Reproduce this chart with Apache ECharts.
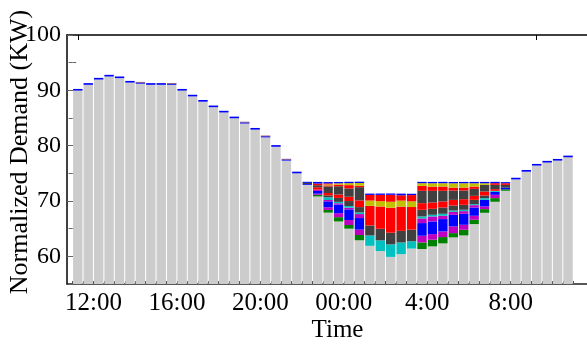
<!DOCTYPE html>
<html>
<head>
<meta charset="utf-8">
<script src="https://cdn.jsdelivr.net/npm/echarts@6/dist/echarts.min.js"></script>
<style>html,body{margin:0;padding:0;background:#fff;}#c{width:587px;height:345px;}</style>
</head>
<body>
<div id="c"></div>
<script>
// 48 half-hour slots starting 11:00
const slots = ["11:00","11:30","12:00","12:30","13:00","13:30","14:00","14:30","15:00","15:30",
  "16:00","16:30","17:00","17:30","18:00","18:30","19:00","19:30","20:00","20:30",
  "21:00","21:30","22:00","22:30","23:00","23:30","00:00","00:30","1:00","1:30",
  "2:00","2:30","3:00","3:30","4:00","4:30","5:00","5:30","6:00","6:30",
  "7:00","7:30","8:00","8:30","9:00","9:30","10:00","10:30"];
const tickLabels = ["12:00", "16:00", "20:00", "00:00", "4:00", "8:00"];
const tickSlots = [2, 10, 18, 26, 34, 42];

const base = [89.95, 91.0, 91.95, 92.5, 92.2, 91.4, 91.2, 91.0, 91.0, 91.0, 89.95, 88.9,
  87.95, 86.95, 86.0, 84.95, 84.0, 82.9, 81.5, 79.8, 77.3, 75.0, 72.92, 70.82,
  67.9, 66.3, 65.0, 62.9, 61.9, 60.95, 59.9, 60.4, 61.4, 61.32, 61.8, 62.34,
  63.42, 63.78, 65.83, 67.87, 69.86, 71.85, 73.9, 75.3, 76.4, 76.95, 77.3, 77.9];

function night(m) { const a = new Array(slots.length).fill(0); for (const k in m) a[+k] = m[k]; return a; }

const green = night({23:0.3,24:0.48,25:0.78,26:0.66,27:0.96,33:1.2,34:1.2,35:1.14,36:0.78,37:1.02,38:0.78,39:0.66,40:0.66,41:0.26});
const magenta1 = night({23:0.2,24:0.48,25:0.72,26:0.9,27:0.96,33:1.2,34:1.02,35:1.02,36:1.2,37:0.9,38:0.72,39:0.48,40:0.6});
const blue1 = night({22:0.15,23:0.5,24:1.08,25:1.56,26:1.93,27:2.1,33:2.29,34:2.29,35:2.23,36:2.1,37:1.99,38:1.5,39:1.2,40:0.54,41:0.3});
const magenta2 = night({23:0.25,24:0.24,25:0.24,26:0.3,27:0.72,33:0.84,34:0.9,35:0.6,36:0.54,37:0.48,38:0.42});
const cyan = night({24:0.48,25:0.24,26:0.3,27:0.3,28:1.87,29:1.93,30:2.27,31:2.1,32:1.32,33:0.36,34:0.3,35:0.36,36:0.24,37:0.24,38:0.18,39:0.3,40:0.18});
const dark1 = night({24:0.36,25:0.72,26:0.9,27:0.96,28:1.8,29:2.1,30:2.1,31:2.1,32:2.1,33:1.2,34:1.08,35:1.14,36:0.9,37:0.9,38:0.78,39:0.48});
const red1 = night({23:0.42,24:0.42,25:0.6,26:0.78,27:1.2,28:3.55,29:4.03,30:4.51,31:4.39,32:4.09,33:1.2,34:1.14,35:1.08,36:1.02,37:1.02,38:0.72,39:0.72,40:0.3});
const dark2 = night({22:0.2,23:0.36,24:1.2,25:1.5,26:1.5,27:2.4,33:2.23,34:2.1,35:1.93,36:1.68,37:1.56,38:1.26,39:1.2,40:0.78,41:0.5});
const red2 = night({24:0.18,25:0.3,26:0.6,27:0.27,33:0.9,34:0.78,35:0.78,36:0.54,37:0.54,38:0.42,40:0.3,41:0.3});
const yellow = night({24:0.18,25:0.24,26:0.36,27:0.48,28:0.96,29:0.96,30:1.08,31:1.08,32:1.02,33:0.48,34:0.6,35:0.6,36:0.78,37:0.78,38:0.6,39:0.3});
const red3 = night({23:0.3,24:0.18,28:1.02,29:1.14,30:1.26,31:0.96,32:1.14});
const blueCap = [0.3,0.3,0.3,0.3,0.3,0.3,0.2,0.3,0.3,0.2,0.3,0.3,0.3,0.3,0.3,0.3,0.2,0.3,0.2,0.3,0.2,0.3,
  0.2,0.3,0.24,0.24,0.24,0.24,0.24,0.24,0.24,0.3,0.24,0.24,0.24,0.24,0.24,0.24,0.24,0.24,0.24,0.2,
  0.3,0.3,0.3,0.3,0.3,0.3];
const brownCap = night({6:0.12,9:0.12,16:0.12,18:0.12,20:0.12});

// bottom -> top stacking order
const layers = [
  ['base', base, '#cccccc'],
  ['green', green, '#008000'],
  ['magenta1', magenta1, '#c000c0'],
  ['blue1', blue1, '#0000ff'],
  ['magenta2', magenta2, '#c000c0'],
  ['cyan', cyan, '#00c0c0'],
  ['dark1', dark1, '#404040'],
  ['red1', red1, '#ff0000'],
  ['dark2', dark2, '#404040'],
  ['red2', red2, '#ff0000'],
  ['yellow', yellow, '#c0c000'],
  ['red3', red3, '#ff0000'],
  ['blueCap', blueCap, '#0000ff'],
  ['brownCap', brownCap, '#7f3f4f']
];

const FONT = 'Liberation Serif';
const boundaries = Array.from({length: slots.length + 1}, (_, i) => i);

const series = layers.map(([name, vals, color]) => ({
  name, type: 'bar', stack: 'demand', barWidth: 9.4, silent: true,
  xAxisIndex: 0, yAxisIndex: 0,
  itemStyle: {color},
  data: vals
}));

const chart = echarts.init(document.getElementById('c'), null, {renderer: 'canvas'});
chart.setOption({
  animation: false,
  backgroundColor: '#fff',
  grid: [
    {left: 72.6, right: 13.76, top: 35, bottom: 61, containLabel: false, outerBoundsMode: 'none'},
    {left: 67, right: 0, top: 35, bottom: 61, containLabel: false, outerBoundsMode: 'none'}
  ],
  xAxis: [{
    gridIndex: 0, type: 'category', data: slots, boundaryGap: true, show: false
  }, {
    gridIndex: 1, type: 'value', min: -0.54, max: 49.32, position: 'bottom',
    axisLine: {show: true, onZero: false, lineStyle: {color: '#222', width: 1.5}},
    splitLine: {show: false},
    axisTick: {show: true, inside: true, length: 3, customValues: boundaries, lineStyle: {color: '#555', width: 1}},
    axisLabel: {customValues: tickSlots, margin: 7, color: '#000', fontFamily: FONT, fontSize: 25,
      formatter: v => tickLabels[tickSlots.indexOf(Math.round(v))] || ''},
    name: 'Time', nameLocation: 'middle', nameGap: 34, nameMoveOverlap: false,
    nameTextStyle: {fontFamily: FONT, fontSize: 25, color: '#000', padding: [0, 0, 0, 21]}
  }, {
    gridIndex: 1, type: 'value', min: -0.54, max: 49.32, position: 'top',
    axisLine: {show: true, onZero: false, lineStyle: {color: '#000', width: 1.5}},
    splitLine: {show: false},
    axisTick: {show: true, inside: true, length: 5, customValues: [0.5, 44.5], lineStyle: {color: '#000'}},
    axisLabel: {show: false}
  }],
  yAxis: [{
    gridIndex: 0, type: 'value', min: 55, max: 100, show: false
  }, {
    gridIndex: 1, type: 'value', min: 55, max: 100, position: 'left',
    axisLine: {show: true, onZero: false, lineStyle: {color: '#000', width: 1.5}},
    splitLine: {show: false},
    axisTick: {show: true, inside: true, length: 6, customValues: [60, 70, 80, 90, 100], lineStyle: {color: '#666'}},
    axisLabel: {customValues: [60, 70, 80, 90, 100], margin: 6, color: '#000', fontFamily: FONT, fontSize: 24},
    name: 'Normalized Demand (KW)', nameLocation: 'middle', nameGap: 34, nameRotate: 90, nameMoveOverlap: false,
    nameTextStyle: {fontFamily: FONT, fontSize: 26, color: '#000', padding: [0, 0, 0, 15]}
  }, {
    gridIndex: 1, type: 'value', min: 55, max: 100, position: 'left',
    axisLine: {show: false}, splitLine: {show: false}, axisLabel: {show: false},
    axisTick: {show: true, inside: true, length: 3.5, customValues: [65, 75, 85, 95], lineStyle: {color: '#666'}}
  }, {
    gridIndex: 1, type: 'value', min: 55, max: 100, interval: 5, position: 'right',
    axisLine: {show: false}, splitLine: {show: false}, axisLabel: {show: false},
    axisTick: {show: true, inside: true, length: 4, lineStyle: {color: '#666'}}
  }],
  series
});
</script>
</body>
</html>
